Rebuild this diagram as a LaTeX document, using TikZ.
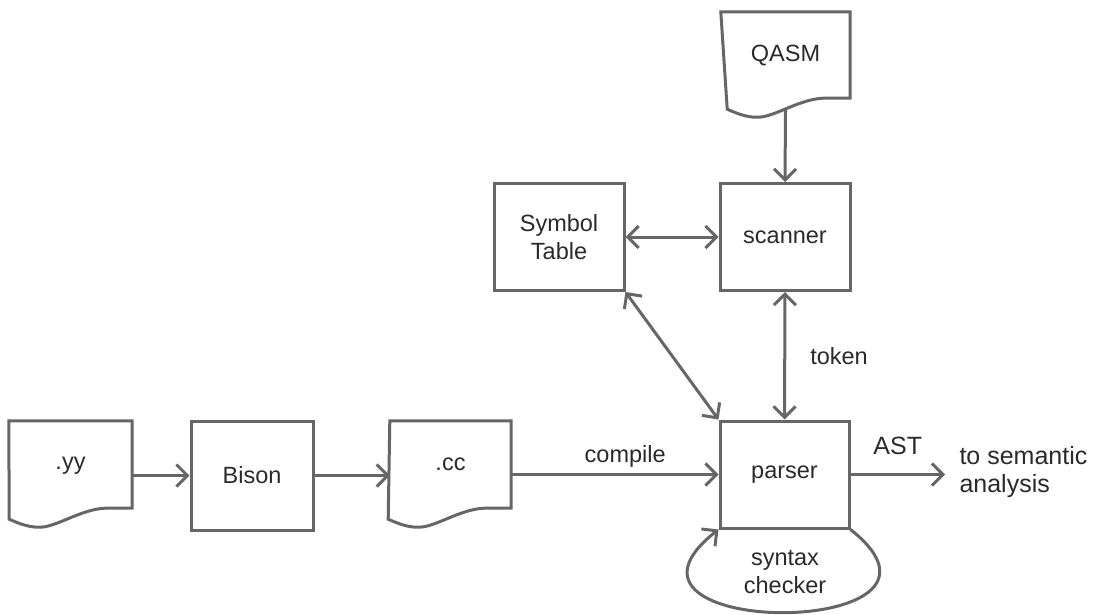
\documentclass[tikz,border=0pt]{standalone}
\usepackage{fontspec}
\setmainfont{Liberation Sans}
\usetikzlibrary{arrows.meta,calc}
\definecolor{ln}{HTML}{666666}
\definecolor{tx}{HTML}{2A2A2A}
\tikzset{
  every node/.style={font=\fontsize{23.5}{28}\selectfont, text=tx},
  bigtxt/.style={font=\fontsize{25}{28}\selectfont},
  box/.style={draw=ln, line width=3pt, rectangle, inner sep=0pt},
  docn/.style={rectangle, inner sep=0pt},
  docline/.style={draw=ln, line width=3pt, line join=miter},
  conn/.style={draw=ln, line width=3pt, -{Straight Barb[length=11pt,width=22pt,line width=3pt]}},
  bconn/.style={draw=ln, line width=3pt, {Straight Barb[length=11pt,width=22pt,line width=3pt]}-{Straight Barb[length=11pt,width=22pt,line width=3pt]}},
  lbl/.style={inner sep=2pt}
}
\newcommand{\docshape}[1]{%
  \draw[docline] (#1.south east) -- ++(-27,0)
    .. controls ++(-25,1) and ++(17,1) .. ++(-67,19)
    .. controls ++(-10,0) and ++(9,4) .. ++(-29,-8)
    -- (#1.north west) -- (#1.north east) -- cycle;}
\begin{document}
\begin{tikzpicture}[x=1pt,y=-1pt]
\useasboundingbox (0,0) rectangle (1099,615);
% document shapes
\node[docn, minimum width=129pt, minimum height=86pt] (qasm) at (785.5,55) {};
\docshape{qasm}
\node (qasmtxt) at ($(qasm.center)+(0,1)$) {QASM};
\node[docn, minimum width=123pt, minimum height=87pt] (yy) at (70.5,464.5) {};
\docshape{yy}
\node (yytxt) at ($(yy.center)+(0,1)$) {.yy};
\node[docn, minimum width=121pt, minimum height=87pt] (cc) at (450.5,464.5) {};
\docshape{cc}
\node (cctxt) at ($(cc.center)+(0,0)$) {.cc};
% boxes
\node[box, minimum width=130pt, minimum height=107pt] (scanner) at (785,237) {scanner};
\node[box, minimum width=130pt, minimum height=107pt, align=center] (symtab) at (559,237) {Symbol\\Table};
\node[box, minimum width=129pt, minimum height=107pt] (parser) at (784.5,474.5) {parser};
\node[box, minimum width=122pt, minimum height=109pt] (bison) at (252,475.5) {Bison};
% connectors
\coordinate (qasmout) at ($(qasm.south)+(0,12)$);
\draw[conn] (qasmout) -- (scanner.north);
\draw[bconn] (symtab.east) -- (scanner.west);
\draw[bconn] (scanner.south) -- node[lbl, right=22pt] {token} (parser.north);
\draw[bconn] (symtab.south east) -- (parser.north west);
\draw[conn] (bison.west -| yy.east) -- (bison.west);
\draw[conn] (bison.east) -- (bison.east -| cc.west);
\draw[conn] (parser.west -| cc.east) -- node[lbl, above=4pt, pos=0.55] {compile} (parser.west);
\coordinate (out) at (945,474.5);
\draw[conn] (parser.east) -- node[lbl, bigtxt, above=16pt, pos=0.5] {AST} (out);
\node[bigtxt, anchor=west, align=left] (sem) at (956,472) {to semantic\\analysis};
\draw[conn] (parser.south east) .. controls (990,640) and (578,640) .. (parser.south west);
\node[align=center] (synlbl) at (785,572) {syntax\\checker};
\end{tikzpicture}
\end{document}
